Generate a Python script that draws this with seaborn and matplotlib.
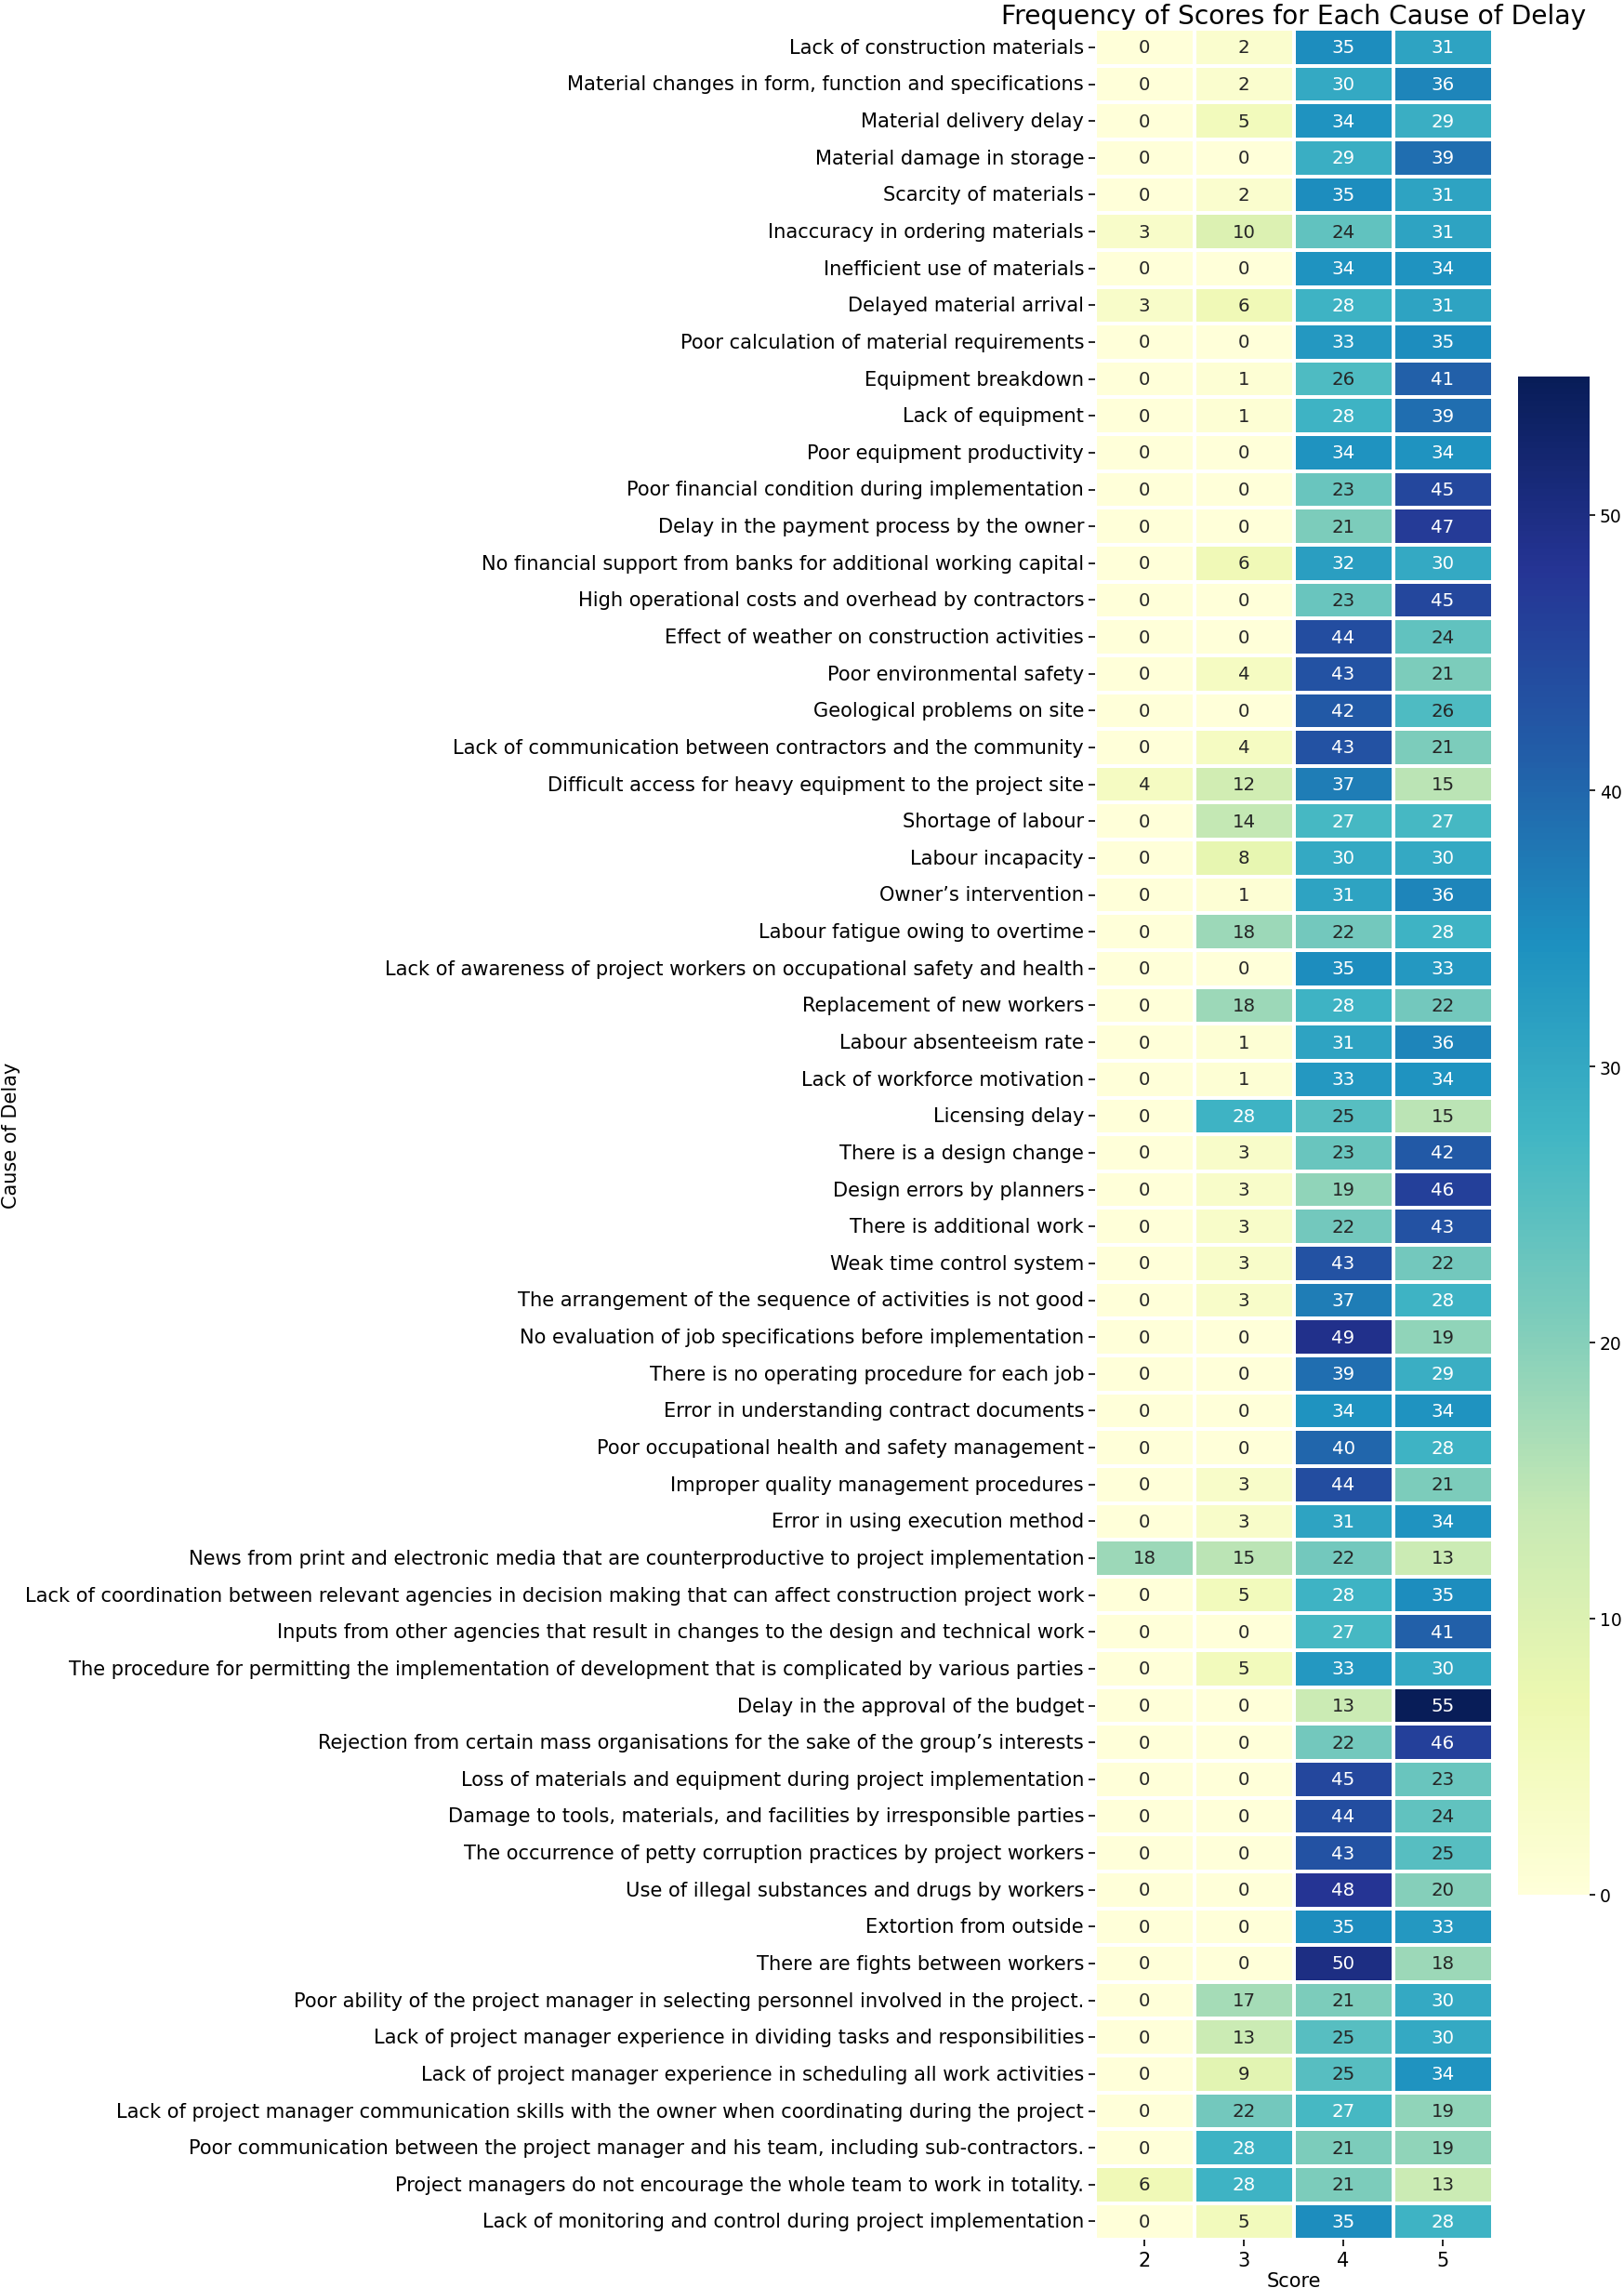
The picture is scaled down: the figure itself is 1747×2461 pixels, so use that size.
import matplotlib
matplotlib.use("Agg")
import matplotlib.pyplot as plt
import numpy as np
import pandas as pd
import seaborn as sns

causes = [
    "Lack of construction materials",
    "Material changes in form, function and specifications",
    "Material delivery delay",
    "Material damage in storage",
    "Scarcity of materials",
    "Inaccuracy in ordering materials",
    "Inefficient use of materials",
    "Delayed material arrival",
    "Poor calculation of material requirements",
    "Equipment breakdown",
    "Lack of equipment",
    "Poor equipment productivity",
    "Poor financial condition during implementation",
    "Delay in the payment process by the owner",
    "No financial support from banks for additional working capital",
    "High operational costs and overhead by contractors",
    "Effect of weather on construction activities",
    "Poor environmental safety",
    "Geological problems on site",
    "Lack of communication between contractors and the community",
    "Difficult access for heavy equipment to the project site",
    "Shortage of labour",
    "Labour incapacity",
    "Owner\u2019s intervention",
    "Labour fatigue owing to overtime",
    "Lack of awareness of project workers on occupational safety and health",
    "Replacement of new workers",
    "Labour absenteeism rate",
    "Lack of workforce motivation",
    "Licensing delay",
    "There is a design change",
    "Design errors by planners",
    "There is additional work",
    "Weak time control system",
    "The arrangement of the sequence of activities is not good",
    "No evaluation of job specifications before implementation",
    "There is no operating procedure for each job",
    "Error in understanding contract documents",
    "Poor occupational health and safety management",
    "Improper quality management procedures",
    "Error in using execution method",
    "News from print and electronic media that are counterproductive to project implementation",
    "Lack of coordination between relevant agencies in decision making that can affect construction project work",
    "Inputs from other agencies that result in changes to the design and technical work",
    "The procedure for permitting the implementation of development that is complicated by various parties",
    "Delay in the approval of the budget",
    "Rejection from certain mass organisations for the sake of the group\u2019s interests",
    "Loss of materials and equipment during project implementation",
    "Damage to tools, materials, and facilities by irresponsible parties",
    "The occurrence of petty corruption practices by project workers",
    "Use of illegal substances and drugs by workers",
    "Extortion from outside",
    "There are fights between workers",
    "Poor ability of the project manager in selecting personnel involved in the project.",
    "Lack of project manager experience in dividing tasks and responsibilities",
    "Lack of project manager experience in scheduling all work activities",
    "Lack of project manager communication skills with the owner when coordinating during the project",
    "Poor communication between the project manager and his team, including sub-contractors.",
    "Project managers do not encourage the whole team to work in totality.",
    "Lack of monitoring and control during project implementation",
]

scores = [2, 3, 4, 5]

score_2 = [0, 0, 0, 0, 0, 3, 0, 3, 0, 0, 0, 0, 0, 0, 0, 0, 0, 0, 0, 0,
           4, 0, 0, 0, 0, 0, 0, 0, 0, 0, 0, 0, 0, 0, 0, 0, 0, 0, 0, 0,
           0, 18, 0, 0, 0, 0, 0, 0, 0, 0, 0, 0, 0, 0, 0, 0, 0, 0, 6, 0]
score_3 = [2, 2, 5, 0, 2, 10, 0, 6, 0, 1, 1, 0, 0, 0, 6, 0, 0, 4, 0, 4,
           12, 14, 8, 1, 18, 0, 18, 1, 1, 28, 3, 3, 3, 3, 3, 0, 0, 0, 0, 3,
           3, 15, 5, 0, 5, 0, 0, 0, 0, 0, 0, 0, 0, 17, 13, 9, 22, 28, 28, 5]
score_4 = [35, 30, 34, 29, 35, 24, 34, 28, 33, 26, 28, 34, 23, 21, 32, 23, 44, 43, 42, 43,
           37, 27, 30, 31, 22, 35, 28, 31, 33, 25, 23, 19, 22, 43, 37, 49, 39, 34, 40, 44,
           31, 22, 28, 27, 33, 13, 22, 45, 44, 43, 48, 35, 50, 21, 25, 25, 27, 21, 21, 35]
score_5 = [31, 36, 29, 39, 31, 31, 34, 31, 35, 41, 39, 34, 45, 47, 30, 45, 24, 21, 26, 21,
           15, 27, 30, 36, 28, 33, 22, 36, 34, 15, 42, 46, 43, 22, 28, 19, 29, 34, 28, 21,
           34, 13, 35, 41, 30, 55, 46, 23, 24, 25, 20, 33, 18, 30, 30, 34, 19, 19, 13, 28]

freq = pd.DataFrame(
    np.array([score_2, score_3, score_4, score_5]).T,
    index=causes,
    columns=scores,
)

fig = plt.figure(figsize=(11.647, 16.413), dpi=150)
ax = fig.add_axes([0.674, 0.021, 0.245, 0.966])
cax = fig.add_axes([0.935, 0.172, 0.044, 0.663])

sns.heatmap(
    freq,
    annot=True,
    fmt="d",
    cmap="YlGnBu",
    linewidths=1,
    linecolor="white",
    ax=ax,
    cbar_ax=cax,
    annot_kws={"fontsize": 9.5},
)
ax.set_title("Frequency of Scores for Each Cause of Delay", fontsize=13.5, pad=3)
ax.set_xlabel("Score", fontsize=10, labelpad=1)
ax.set_ylabel("Cause of Delay", fontsize=10)
ax.tick_params(axis="y", labelsize=10.1, rotation=0, pad=2)
ax.tick_params(axis="x", labelsize=10, pad=2)
ax.yaxis.set_label_coords(-2.70, 0.5)
cax.tick_params(labelsize=9, pad=2, length=3)

fig.savefig("out.png", dpi=150)
plt.close(fig)
